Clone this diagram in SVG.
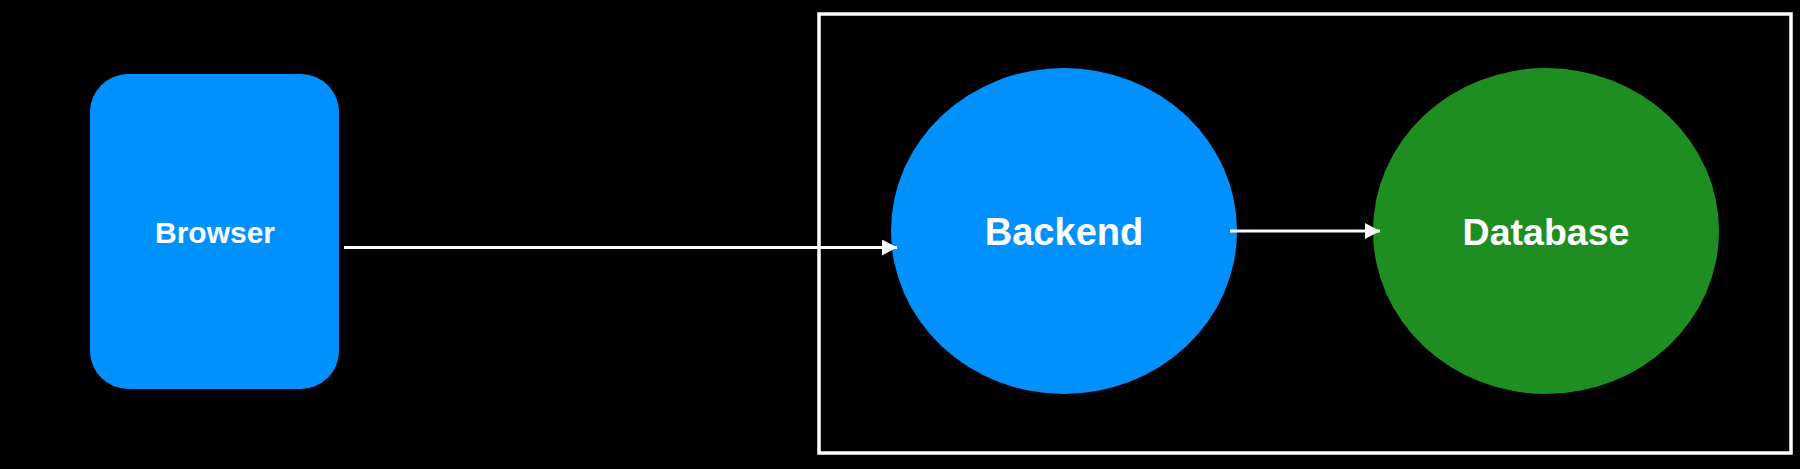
<svg xmlns="http://www.w3.org/2000/svg" width="1800" height="469" viewBox="0 0 1800 469">
<style>
.lbl{font-family:"Liberation Sans",Arial,sans-serif;font-weight:bold;fill:#fff;text-anchor:middle}
.conn{stroke:#fff;stroke-width:3;fill:none}
</style>
<defs>
<marker id="ah" viewBox="0 0 15 16" refX="15" refY="8" markerWidth="15" markerHeight="16" markerUnits="userSpaceOnUse" orient="auto">
<path d="M0,0 L15,8 L0,16 Z" fill="#fff"/>
</marker>
</defs>
<rect width="1800" height="469" fill="#000"/>
<g id="container">
<rect x="819" y="14" width="972" height="439" fill="none" stroke="#fff" stroke-width="3.5"/>
</g>
<g id="browser">
<rect x="90" y="74" width="249" height="315" rx="38" ry="38" fill="#0091ff"/>
<text class="lbl" x="215" y="243" font-size="30">Browser</text>
</g>
<g id="backend">
<ellipse cx="1064" cy="231" rx="173" ry="163" fill="#0091ff"/>
<text class="lbl" x="1064" y="245" font-size="38">Backend</text>
</g>
<g id="database">
<ellipse cx="1546" cy="231" rx="173" ry="163" fill="#1f8e22"/>
<text class="lbl" x="1546" y="245" font-size="37.5">Database</text>
</g>
<g id="connectors">
<line class="conn" x1="344" y1="247.5" x2="897" y2="247.5" marker-end="url(#ah)"/>
<line class="conn" x1="1230" y1="231" x2="1380" y2="231" marker-end="url(#ah)"/>
</g>
</svg>
